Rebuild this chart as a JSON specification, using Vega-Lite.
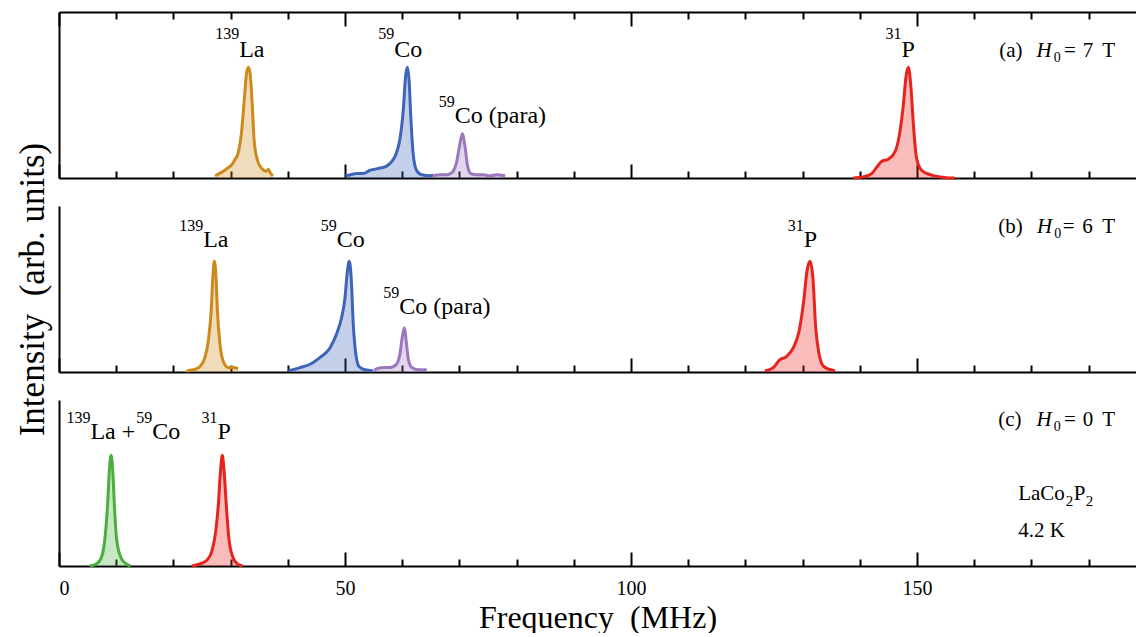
{
  "$schema": "https://vega.github.io/schema/vega-lite/v6.json",
  "padding": {"left": 14, "top": 11, "right": 0, "bottom": 0},
  "bounds": "flush",
  "spacing": 28,
  "config": {
    "view": {"stroke": null},
    "font": "Liberation Serif",
    "axis": {"grid": false, "domainColor": "black", "domainWidth": 2, "tickColor": "black", "tickWidth": 2,
             "labelFont": "Liberation Serif", "titleFont": "Liberation Serif", "labelColor": "black", "titleColor": "black", "titleFontWeight": "normal"}
  },
  "datasets": {
    "spec": [
      {"p":"a","s":"La","f":27.3,"I":0.02},{"p":"a","s":"La","f":28.0,"I":0.04},{"p":"a","s":"La","f":28.7,"I":0.06},{"p":"a","s":"La","f":29.5,"I":0.09},{"p":"a","s":"La","f":30.2,"I":0.12},{"p":"a","s":"La","f":30.8,"I":0.17},{"p":"a","s":"La","f":31.35,"I":0.23},{"p":"a","s":"La","f":31.9,"I":0.41},{"p":"a","s":"La","f":32.4,"I":0.71},{"p":"a","s":"La","f":32.8,"I":0.95},{"p":"a","s":"La","f":33.1,"I":1.0},{"p":"a","s":"La","f":33.4,"I":0.95},{"p":"a","s":"La","f":33.8,"I":0.65},{"p":"a","s":"La","f":34.1,"I":0.35},{"p":"a","s":"La","f":34.7,"I":0.16},{"p":"a","s":"La","f":35.4,"I":0.09},{"p":"a","s":"La","f":35.8,"I":0.07},{"p":"a","s":"La","f":36.2,"I":0.06},{"p":"a","s":"La","f":36.6,"I":0.08},{"p":"a","s":"La","f":36.9,"I":0.05},{"p":"a","s":"La","f":37.4,"I":0.02},
      {"p":"a","s":"Co","f":50.1,"I":0.02},{"p":"a","s":"Co","f":51.0,"I":0.03},{"p":"a","s":"Co","f":52.0,"I":0.04},{"p":"a","s":"Co","f":53.2,"I":0.04},{"p":"a","s":"Co","f":54.4,"I":0.07},{"p":"a","s":"Co","f":55.3,"I":0.08},{"p":"a","s":"Co","f":56.1,"I":0.09},{"p":"a","s":"Co","f":57.0,"I":0.1},{"p":"a","s":"Co","f":57.6,"I":0.12},{"p":"a","s":"Co","f":58.2,"I":0.15},{"p":"a","s":"Co","f":58.7,"I":0.19},{"p":"a","s":"Co","f":59.2,"I":0.26},{"p":"a","s":"Co","f":59.6,"I":0.35},{"p":"a","s":"Co","f":60.2,"I":0.62},{"p":"a","s":"Co","f":60.6,"I":0.92},{"p":"a","s":"Co","f":60.9,"I":1.0},{"p":"a","s":"Co","f":61.2,"I":0.89},{"p":"a","s":"Co","f":61.5,"I":0.56},{"p":"a","s":"Co","f":61.9,"I":0.23},{"p":"a","s":"Co","f":62.5,"I":0.07},{"p":"a","s":"Co","f":63.4,"I":0.03},{"p":"a","s":"Co","f":64.9,"I":0.02},{"p":"a","s":"Co","f":65.4,"I":0.03},
      {"p":"a","s":"Para","f":65.4,"I":0.02},{"p":"a","s":"Para","f":66.6,"I":0.03},{"p":"a","s":"Para","f":67.8,"I":0.03},{"p":"a","s":"Para","f":68.4,"I":0.04},{"p":"a","s":"Para","f":68.9,"I":0.06},{"p":"a","s":"Para","f":69.5,"I":0.14},{"p":"a","s":"Para","f":70.0,"I":0.28},{"p":"a","s":"Para","f":70.5,"I":0.40},{"p":"a","s":"Para","f":71.0,"I":0.28},{"p":"a","s":"Para","f":71.4,"I":0.12},{"p":"a","s":"Para","f":72.0,"I":0.04},{"p":"a","s":"Para","f":73.0,"I":0.03},{"p":"a","s":"Para","f":74.2,"I":0.03},{"p":"a","s":"Para","f":75.3,"I":0.02},{"p":"a","s":"Para","f":76.5,"I":0.03},{"p":"a","s":"Para","f":78.0,"I":0.02},
      {"p":"a","s":"P","f":138.9,"I":0.0},{"p":"a","s":"P","f":140.6,"I":0.01},{"p":"a","s":"P","f":142.1,"I":0.04},{"p":"a","s":"P","f":143.0,"I":0.10},{"p":"a","s":"P","f":143.8,"I":0.15},{"p":"a","s":"P","f":145.0,"I":0.17},{"p":"a","s":"P","f":146.2,"I":0.24},{"p":"a","s":"P","f":147.0,"I":0.41},{"p":"a","s":"P","f":147.6,"I":0.65},{"p":"a","s":"P","f":148.1,"I":0.92},{"p":"a","s":"P","f":148.5,"I":1.0},{"p":"a","s":"P","f":148.9,"I":0.85},{"p":"a","s":"P","f":149.4,"I":0.47},{"p":"a","s":"P","f":149.9,"I":0.19},{"p":"a","s":"P","f":150.8,"I":0.07},{"p":"a","s":"P","f":152.3,"I":0.03},{"p":"a","s":"P","f":154.0,"I":0.01},{"p":"a","s":"P","f":156.6,"I":0.0},
      {"p":"b","s":"La","f":22.3,"I":0.01},{"p":"b","s":"La","f":23.5,"I":0.02},{"p":"b","s":"La","f":24.65,"I":0.05},{"p":"b","s":"La","f":25.5,"I":0.13},{"p":"b","s":"La","f":26.1,"I":0.28},{"p":"b","s":"La","f":26.6,"I":0.55},{"p":"b","s":"La","f":26.9,"I":0.86},{"p":"b","s":"La","f":27.15,"I":1.0},{"p":"b","s":"La","f":27.45,"I":0.86},{"p":"b","s":"La","f":27.7,"I":0.55},{"p":"b","s":"La","f":28.15,"I":0.25},{"p":"b","s":"La","f":28.7,"I":0.10},{"p":"b","s":"La","f":29.6,"I":0.04},{"p":"b","s":"La","f":30.5,"I":0.04},{"p":"b","s":"La","f":31.3,"I":0.03},
      {"p":"b","s":"Co","f":40.1,"I":0.01},{"p":"b","s":"Co","f":42.1,"I":0.04},{"p":"b","s":"Co","f":43.9,"I":0.07},{"p":"b","s":"Co","f":45.6,"I":0.13},{"p":"b","s":"Co","f":47.4,"I":0.22},{"p":"b","s":"Co","f":48.5,"I":0.34},{"p":"b","s":"Co","f":49.4,"I":0.49},{"p":"b","s":"Co","f":50.0,"I":0.67},{"p":"b","s":"Co","f":50.4,"I":0.9},{"p":"b","s":"Co","f":50.75,"I":1.0},{"p":"b","s":"Co","f":51.1,"I":0.84},{"p":"b","s":"Co","f":51.45,"I":0.43},{"p":"b","s":"Co","f":51.9,"I":0.16},{"p":"b","s":"Co","f":52.45,"I":0.05},{"p":"b","s":"Co","f":53.5,"I":0.02},{"p":"b","s":"Co","f":54.95,"I":0.01},
      {"p":"b","s":"Para","f":55.1,"I":0.02},{"p":"b","s":"Para","f":56.7,"I":0.04},{"p":"b","s":"Para","f":57.9,"I":0.04},{"p":"b","s":"Para","f":59.0,"I":0.07},{"p":"b","s":"Para","f":59.6,"I":0.16},{"p":"b","s":"Para","f":60.0,"I":0.31},{"p":"b","s":"Para","f":60.4,"I":0.40},{"p":"b","s":"Para","f":60.7,"I":0.28},{"p":"b","s":"Para","f":61.1,"I":0.11},{"p":"b","s":"Para","f":61.7,"I":0.04},{"p":"b","s":"Para","f":62.8,"I":0.02},{"p":"b","s":"Para","f":64.3,"I":0.02},
      {"p":"b","s":"P","f":123.4,"I":0.01},{"p":"b","s":"P","f":124.9,"I":0.04},{"p":"b","s":"P","f":126.0,"I":0.11},{"p":"b","s":"P","f":127.2,"I":0.14},{"p":"b","s":"P","f":128.4,"I":0.22},{"p":"b","s":"P","f":129.4,"I":0.37},{"p":"b","s":"P","f":130.2,"I":0.64},{"p":"b","s":"P","f":130.8,"I":0.92},{"p":"b","s":"P","f":131.3,"I":1.0},{"p":"b","s":"P","f":131.8,"I":0.86},{"p":"b","s":"P","f":132.3,"I":0.40},{"p":"b","s":"P","f":132.9,"I":0.16},{"p":"b","s":"P","f":133.7,"I":0.05},{"p":"b","s":"P","f":135.7,"I":0.01},
      {"p":"c","s":"LaCo","f":5.4,"I":0.0},{"p":"c","s":"LaCo","f":6.6,"I":0.02},{"p":"c","s":"LaCo","f":7.5,"I":0.09},{"p":"c","s":"LaCo","f":8.05,"I":0.26},{"p":"c","s":"LaCo","f":8.5,"I":0.56},{"p":"c","s":"LaCo","f":8.8,"I":0.86},{"p":"c","s":"LaCo","f":9.1,"I":1.0},{"p":"c","s":"LaCo","f":9.4,"I":0.86},{"p":"c","s":"LaCo","f":9.7,"I":0.53},{"p":"c","s":"LaCo","f":10.1,"I":0.23},{"p":"c","s":"LaCo","f":10.8,"I":0.08},{"p":"c","s":"LaCo","f":11.5,"I":0.03},{"p":"c","s":"LaCo","f":12.5,"I":0.0},
      {"p":"c","s":"P","f":23.2,"I":0.0},{"p":"c","s":"P","f":24.65,"I":0.02},{"p":"c","s":"P","f":25.8,"I":0.05},{"p":"c","s":"P","f":26.7,"I":0.13},{"p":"c","s":"P","f":27.4,"I":0.31},{"p":"c","s":"P","f":27.85,"I":0.55},{"p":"c","s":"P","f":28.2,"I":0.83},{"p":"c","s":"P","f":28.55,"I":1.0},{"p":"c","s":"P","f":28.9,"I":0.83},{"p":"c","s":"P","f":29.25,"I":0.55},{"p":"c","s":"P","f":29.7,"I":0.25},{"p":"c","s":"P","f":30.4,"I":0.08},{"p":"c","s":"P","f":31.2,"I":0.02},{"p":"c","s":"P","f":32.1,"I":0.0}
    ],
    "txt": [
      {"p":"a","k":"sup","f":31.5,"y":1.252,"t":"139"},{"p":"a","k":"main","f":31.5,"y":1.096,"t":"La"},
      {"p":"a","k":"sup","f":58.6,"y":1.252,"t":"59"},{"p":"a","k":"main","f":58.6,"y":1.096,"t":"Co"},
      {"p":"a","k":"sup","f":69.2,"y":0.645,"t":"59"},{"p":"a","k":"main","f":69.2,"y":0.495,"t":"Co (para)"},
      {"p":"a","k":"sup","f":147.3,"y":1.252,"t":"31"},{"p":"a","k":"main","f":147.3,"y":1.096,"t":"P"},
      {"p":"a","k":"note","f":164.4,"y":1.09,"t":"(a)"},{"p":"a","k":"ital","f":170.9,"y":1.09,"t":"H"},{"p":"a","k":"sub","f":173.9,"y":1.045,"t":"0"},
      {"p":"a","k":"note","f":175.7,"y":1.09,"t":"="},{"p":"a","k":"note","f":179.0,"y":1.09,"t":"7"},{"p":"a","k":"note","f":182.4,"y":1.09,"t":"T"},
      {"p":"b","k":"sup","f":25.2,"y":1.275,"t":"139"},{"p":"b","k":"main","f":25.2,"y":1.13,"t":"La"},
      {"p":"b","k":"sup","f":48.55,"y":1.275,"t":"59"},{"p":"b","k":"main","f":48.55,"y":1.13,"t":"Co"},
      {"p":"b","k":"sup","f":59.5,"y":0.67,"t":"59"},{"p":"b","k":"main","f":59.5,"y":0.525,"t":"Co (para)"},
      {"p":"b","k":"sup","f":130.2,"y":1.275,"t":"31"},{"p":"b","k":"main","f":130.2,"y":1.13,"t":"P"},
      {"p":"b","k":"note","f":164.2,"y":1.256,"t":"(b)"},{"p":"b","k":"ital","f":171.0,"y":1.256,"t":"H"},{"p":"b","k":"sub","f":174.0,"y":1.211,"t":"0"},
      {"p":"b","k":"note","f":175.5,"y":1.256,"t":"="},{"p":"b","k":"note","f":178.9,"y":1.256,"t":"6"},{"p":"b","k":"note","f":182.4,"y":1.256,"t":"T"},
      {"p":"c","k":"sup","f":5.5,"y":1.288,"t":"139"},{"p":"c","k":"main","f":5.5,"y":1.145,"t":"La +"},
      {"p":"c","k":"sup","f":16.3,"y":1.288,"t":"59"},{"p":"c","k":"main","f":16.3,"y":1.145,"t":"Co"},
      {"p":"c","k":"sup","f":27.7,"y":1.288,"t":"31"},{"p":"c","k":"main","f":27.7,"y":1.145,"t":"P"},
      {"p":"c","k":"note","f":164.2,"y":1.268,"t":"(c)"},{"p":"c","k":"ital","f":170.9,"y":1.268,"t":"H"},{"p":"c","k":"sub","f":173.9,"y":1.223,"t":"0"},
      {"p":"c","k":"note","f":175.7,"y":1.268,"t":"="},{"p":"c","k":"note","f":179.0,"y":1.268,"t":"0"},{"p":"c","k":"note","f":182.4,"y":1.268,"t":"T"},
      {"p":"c","k":"big","f":167.7,"y":0.597,"t":"LaCo"},{"p":"c","k":"bigsub","f":176.0,"y":0.543,"t":"2"},{"p":"c","k":"big","f":177.4,"y":0.597,"t":"P"},{"p":"c","k":"bigsub","f":179.5,"y":0.543,"t":"2"},
      {"p":"c","k":"big","f":167.7,"y":0.262,"t":"4.2 K"}
    ]
  },
  "vconcat": [
    {
      "width": 1077, "height": 166,
      "resolve": {"axis": {"x": "independent"}},
      "layer": [
        {"data": {"name": "spec"}, "transform": [{"filter": "datum.p == 'a'"}],
         "mark": {"type": "area", "opacity": 0.3, "interpolate": "monotone"},
         "encoding": {
           "x": {"field": "f", "type": "quantitative", "scale": {"domain": [0, 188.3], "nice": false, "zero": false},
                 "axis": {"orient": "top", "values": [0,10,20,30,40,50,60,70,80,90,100,110,120,130,140,150,160,170,180], "labels": false, "title": null,
                          "tickSize": {"condition": {"test": "datum.value % 50 === 0", "value": -14}, "value": -7}}},
           "y": {"field": "I", "type": "quantitative", "stack": null, "scale": {"domain": [0, 1.5], "nice": false}, "axis": {"ticks": false, "labels": false, "title": null}},
           "color": {"field": "s", "type": "nominal", "scale": {"domain": ["La","Co","Para","P","LaCo"], "range": ["#CC8A1C","#3D64B8","#9B78BE","#E8231E","#4AAF3C"]}, "legend": null}
         }},
        {"data": {"name": "spec"}, "transform": [{"filter": "datum.p == 'a'"}],
         "mark": {"type": "line", "strokeWidth": 3, "interpolate": "monotone"},
         "encoding": {
           "x": {"field": "f", "type": "quantitative",
                 "axis": {"orient": "bottom", "values": [0,10,20,30,40,50,60,70,80,90,100,110,120,130,140,150,160,170,180], "labels": false, "title": null,
                          "tickSize": {"condition": {"test": "datum.value % 50 === 0", "value": -14}, "value": -7}}},
           "y": {"field": "I", "type": "quantitative"},
           "color": {"field": "s", "type": "nominal", "legend": null}
         }},
        {"data": {"name": "txt"}, "transform": [{"filter": "datum.p == 'a' && datum.k == 'main'"}],
         "mark": {"type": "text", "align": "left", "baseline": "alphabetic", "font": "Liberation Serif", "fontSize": 24, "color": "black"},
         "encoding": {"x": {"field": "f", "type": "quantitative", "axis": null}, "y": {"field": "y", "type": "quantitative"}, "text": {"field": "t"}}},
        {"data": {"name": "txt"}, "transform": [{"filter": "datum.p == 'a' && datum.k == 'sup'"}],
         "mark": {"type": "text", "align": "right", "baseline": "alphabetic", "font": "Liberation Serif", "fontSize": 16, "color": "black"},
         "encoding": {"x": {"field": "f", "type": "quantitative", "axis": null}, "y": {"field": "y", "type": "quantitative"}, "text": {"field": "t"}}},
        {"data": {"name": "txt"}, "transform": [{"filter": "datum.p == 'a' && datum.k == 'note'"}],
         "mark": {"type": "text", "align": "left", "baseline": "alphabetic", "font": "Liberation Serif", "fontSize": 21, "color": "black"},
         "encoding": {"x": {"field": "f", "type": "quantitative", "axis": null}, "y": {"field": "y", "type": "quantitative"}, "text": {"field": "t"}}},
        {"data": {"name": "txt"}, "transform": [{"filter": "datum.p == 'a' && datum.k == 'ital'"}],
         "mark": {"type": "text", "align": "left", "baseline": "alphabetic", "font": "Liberation Serif", "fontSize": 21, "fontStyle": "italic", "color": "black"},
         "encoding": {"x": {"field": "f", "type": "quantitative", "axis": null}, "y": {"field": "y", "type": "quantitative"}, "text": {"field": "t"}}},
        {"data": {"name": "txt"}, "transform": [{"filter": "datum.p == 'a' && datum.k == 'sub'"}],
         "mark": {"type": "text", "align": "left", "baseline": "alphabetic", "font": "Liberation Serif", "fontSize": 14, "color": "black"},
         "encoding": {"x": {"field": "f", "type": "quantitative", "axis": null}, "y": {"field": "y", "type": "quantitative"}, "text": {"field": "t"}}}
      ]
    },
    {
      "width": 1077, "height": 166,
      "layer": [
        {"data": {"name": "spec"}, "transform": [{"filter": "datum.p == 'b'"}],
         "mark": {"type": "area", "opacity": 0.3, "interpolate": "monotone"},
         "encoding": {
           "x": {"field": "f", "type": "quantitative", "scale": {"domain": [0, 188.3], "nice": false, "zero": false},
                 "axis": {"values": [0,10,20,30,40,50,60,70,80,90,100,110,120,130,140,150,160,170,180], "labels": false, "title": null,
                          "tickSize": {"condition": {"test": "datum.value % 50 === 0", "value": -14}, "value": -7}}},
           "y": {"field": "I", "type": "quantitative", "stack": null, "scale": {"domain": [0, 1.5], "nice": false},
                 "axis": {"ticks": false, "labels": false, "title": "Intensity\u00a0 (arb. units)", "titleFontSize": 35, "titlePadding": 9}},
           "color": {"field": "s", "type": "nominal", "scale": {"domain": ["La","Co","Para","P","LaCo"], "range": ["#CC8A1C","#3D64B8","#9B78BE","#E8231E","#4AAF3C"]}, "legend": null}
         }},
        {"data": {"name": "spec"}, "transform": [{"filter": "datum.p == 'b'"}],
         "mark": {"type": "line", "strokeWidth": 3, "interpolate": "monotone"},
         "encoding": {
           "x": {"field": "f", "type": "quantitative"},
           "y": {"field": "I", "type": "quantitative"},
           "color": {"field": "s", "type": "nominal", "legend": null}
         }},
        {"data": {"name": "txt"}, "transform": [{"filter": "datum.p == 'b' && datum.k == 'main'"}],
         "mark": {"type": "text", "align": "left", "baseline": "alphabetic", "font": "Liberation Serif", "fontSize": 24, "color": "black"},
         "encoding": {"x": {"field": "f", "type": "quantitative"}, "y": {"field": "y", "type": "quantitative"}, "text": {"field": "t"}}},
        {"data": {"name": "txt"}, "transform": [{"filter": "datum.p == 'b' && datum.k == 'sup'"}],
         "mark": {"type": "text", "align": "right", "baseline": "alphabetic", "font": "Liberation Serif", "fontSize": 16, "color": "black"},
         "encoding": {"x": {"field": "f", "type": "quantitative"}, "y": {"field": "y", "type": "quantitative"}, "text": {"field": "t"}}},
        {"data": {"name": "txt"}, "transform": [{"filter": "datum.p == 'b' && datum.k == 'note'"}],
         "mark": {"type": "text", "align": "left", "baseline": "alphabetic", "font": "Liberation Serif", "fontSize": 21, "color": "black"},
         "encoding": {"x": {"field": "f", "type": "quantitative"}, "y": {"field": "y", "type": "quantitative"}, "text": {"field": "t"}}},
        {"data": {"name": "txt"}, "transform": [{"filter": "datum.p == 'b' && datum.k == 'ital'"}],
         "mark": {"type": "text", "align": "left", "baseline": "alphabetic", "font": "Liberation Serif", "fontSize": 21, "fontStyle": "italic", "color": "black"},
         "encoding": {"x": {"field": "f", "type": "quantitative"}, "y": {"field": "y", "type": "quantitative"}, "text": {"field": "t"}}},
        {"data": {"name": "txt"}, "transform": [{"filter": "datum.p == 'b' && datum.k == 'sub'"}],
         "mark": {"type": "text", "align": "left", "baseline": "alphabetic", "font": "Liberation Serif", "fontSize": 14, "color": "black"},
         "encoding": {"x": {"field": "f", "type": "quantitative"}, "y": {"field": "y", "type": "quantitative"}, "text": {"field": "t"}}}
      ]
    },
    {
      "width": 1077, "height": 166,
      "layer": [
        {"data": {"name": "spec"}, "transform": [{"filter": "datum.p == 'c'"}],
         "mark": {"type": "area", "opacity": 0.3, "interpolate": "monotone"},
         "encoding": {
           "x": {"field": "f", "type": "quantitative", "scale": {"domain": [0, 188.3], "nice": false, "zero": false},
                 "axis": {"values": [0,10,20,30,40,50,60,70,80,90,100,110,120,130,140,150,160,170,180],
                          "labelExpr": "datum.value % 50 === 0 ? datum.label : ''", "labelFontSize": 20, "labelPadding": 26,
                          "title": "Frequency\u00a0 (MHz)", "titleFontSize": 32, "titlePadding": 4,
                          "tickSize": {"condition": {"test": "datum.value % 50 === 0", "value": -14}, "value": -7}}},
           "y": {"field": "I", "type": "quantitative", "stack": null, "scale": {"domain": [0, 1.5], "nice": false}, "axis": {"ticks": false, "labels": false, "title": null}},
           "color": {"field": "s", "type": "nominal", "scale": {"domain": ["La","Co","Para","P","LaCo"], "range": ["#CC8A1C","#3D64B8","#9B78BE","#E8231E","#4AAF3C"]}, "legend": null}
         }},
        {"data": {"name": "spec"}, "transform": [{"filter": "datum.p == 'c'"}],
         "mark": {"type": "line", "strokeWidth": 3, "interpolate": "monotone"},
         "encoding": {
           "x": {"field": "f", "type": "quantitative"},
           "y": {"field": "I", "type": "quantitative"},
           "color": {"field": "s", "type": "nominal", "legend": null}
         }},
        {"data": {"name": "txt"}, "transform": [{"filter": "datum.p == 'c' && datum.k == 'main'"}],
         "mark": {"type": "text", "align": "left", "baseline": "alphabetic", "font": "Liberation Serif", "fontSize": 24, "color": "black"},
         "encoding": {"x": {"field": "f", "type": "quantitative"}, "y": {"field": "y", "type": "quantitative"}, "text": {"field": "t"}}},
        {"data": {"name": "txt"}, "transform": [{"filter": "datum.p == 'c' && datum.k == 'sup'"}],
         "mark": {"type": "text", "align": "right", "baseline": "alphabetic", "font": "Liberation Serif", "fontSize": 16, "color": "black"},
         "encoding": {"x": {"field": "f", "type": "quantitative"}, "y": {"field": "y", "type": "quantitative"}, "text": {"field": "t"}}},
        {"data": {"name": "txt"}, "transform": [{"filter": "datum.p == 'c' && datum.k == 'note'"}],
         "mark": {"type": "text", "align": "left", "baseline": "alphabetic", "font": "Liberation Serif", "fontSize": 21, "color": "black"},
         "encoding": {"x": {"field": "f", "type": "quantitative"}, "y": {"field": "y", "type": "quantitative"}, "text": {"field": "t"}}},
        {"data": {"name": "txt"}, "transform": [{"filter": "datum.p == 'c' && datum.k == 'ital'"}],
         "mark": {"type": "text", "align": "left", "baseline": "alphabetic", "font": "Liberation Serif", "fontSize": 21, "fontStyle": "italic", "color": "black"},
         "encoding": {"x": {"field": "f", "type": "quantitative"}, "y": {"field": "y", "type": "quantitative"}, "text": {"field": "t"}}},
        {"data": {"name": "txt"}, "transform": [{"filter": "datum.p == 'c' && datum.k == 'sub'"}],
         "mark": {"type": "text", "align": "left", "baseline": "alphabetic", "font": "Liberation Serif", "fontSize": 14, "color": "black"},
         "encoding": {"x": {"field": "f", "type": "quantitative"}, "y": {"field": "y", "type": "quantitative"}, "text": {"field": "t"}}},
        {"data": {"name": "txt"}, "transform": [{"filter": "datum.p == 'c' && datum.k == 'big'"}],
         "mark": {"type": "text", "align": "left", "baseline": "alphabetic", "font": "Liberation Serif", "fontSize": 21, "color": "black"},
         "encoding": {"x": {"field": "f", "type": "quantitative"}, "y": {"field": "y", "type": "quantitative"}, "text": {"field": "t"}}},
        {"data": {"name": "txt"}, "transform": [{"filter": "datum.p == 'c' && datum.k == 'bigsub'"}],
         "mark": {"type": "text", "align": "left", "baseline": "alphabetic", "font": "Liberation Serif", "fontSize": 15, "color": "black"},
         "encoding": {"x": {"field": "f", "type": "quantitative"}, "y": {"field": "y", "type": "quantitative"}, "text": {"field": "t"}}}
      ]
    }
  ]
}
